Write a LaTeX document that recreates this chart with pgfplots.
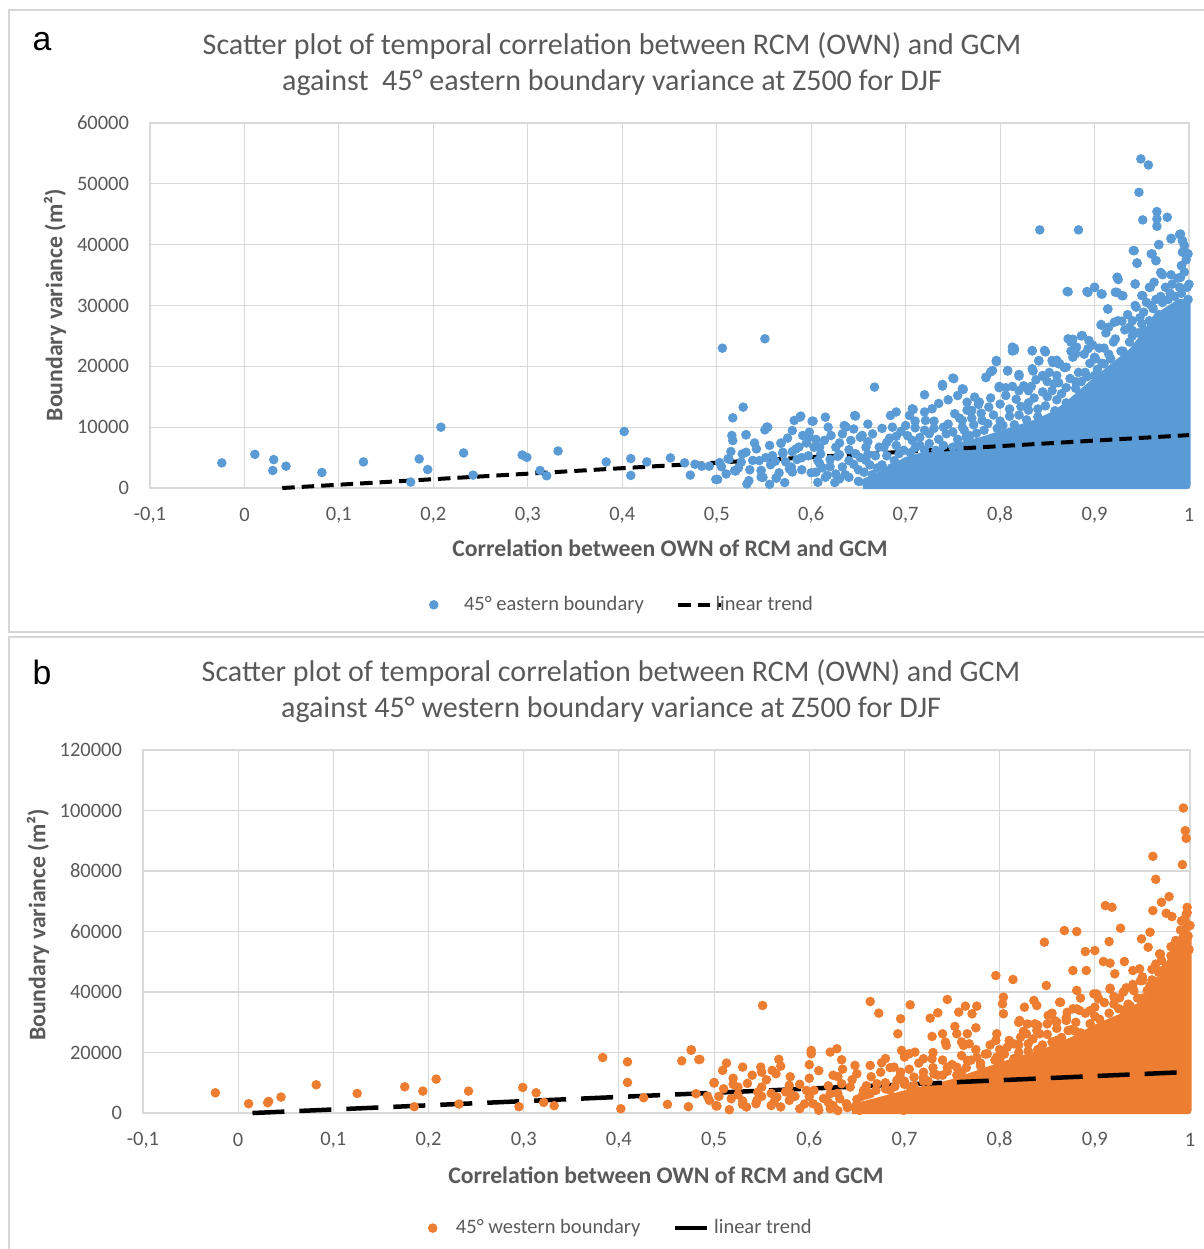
\documentclass[border=0pt]{standalone}
\usepackage{fontspec}
\setmainfont{Carlito}
\newfontfamily\arialfont{Liberation Sans}
\usepackage{pgfplots}
\pgfplotsset{compat=1.18}

\definecolor{cA}{HTML}{5B9BD5}
\definecolor{cB}{HTML}{ED7D31}
\definecolor{gridc}{HTML}{D9D9D9}
\definecolor{txtc}{HTML}{595959}
\definecolor{framec}{HTML}{D6D6D6}

% 1 px of the reference = 0.4pt
\pgfplotsset{
  panel/.style={
    scale only axis, clip=false,
    xmin=-0.1, xmax=1, ymin=0,
    scaled y ticks=false,
    xtick={-0.1,0,0.1,0.2,0.3,0.4,0.5,0.6,0.7,0.8,0.9,1},
    xticklabels={{-0,1},0,{0,1},{0,2},{0,3},{0,4},{0,5},{0,6},{0,7},{0,8},{0,9},1},
    grid=major,
    major grid style={draw=gridc, line width=0.45pt},
    axis line style={draw=gridc, line width=0.45pt},
    tick style={draw=none},
    tick label style={font=\fontsize{8.2}{10}\selectfont, text=txtc, inner sep=0pt},
    xticklabel style={anchor=center, yshift=-10.8pt},
    yticklabel style={anchor=east, xshift=-8.2pt},
    label style={font=\fontsize{9.5}{11}\selectfont\bfseries, text=txtc},
    legend columns=2,
    legend style={draw=none, fill=none, font=\fontsize{8.2}{10}\selectfont,
      text=txtc, anchor=center,
      /tikz/every odd column/.append style={column sep=0pt},
      /tikz/every even column/.append style={column sep=11pt}},
  },
}

\begin{document}
\begin{tikzpicture}
\begin{scope}[x=0.4pt, y=-0.4pt]
  \useasboundingbox (0,0) rectangle (1204,1249);
  \draw[framec, line width=0.8pt] (9,10) rectangle (1215,632);
  \draw[framec, line width=0.8pt] (9,637) rectangle (1215,1260);
  \node[font=\arialfont\fontsize{13.5}{14}\selectfont] at (42,42) {a};
  \node[font=\arialfont\fontsize{13.5}{14}\selectfont] at (42,672) {b};
  \node[font=\fontsize{12}{14}\selectfont, text=txtc] at (612,46)
    {Scatter plot of temporal correlation between RCM (OWN) and GCM};
  \node[font=\fontsize{12}{14}\selectfont, text=txtc] at (612,83)
    {against\ \ 45° eastern boundary variance at Z500 for DJF};
  \node[font=\fontsize{12}{14}\selectfont, text=txtc] at (611,673)
    {Scatter plot of temporal correlation between RCM (OWN) and GCM};
  \node[font=\fontsize{12}{14}\selectfont, text=txtc] at (611,710)
    {against 45° western boundary variance at Z500 for DJF};
\end{scope}

% ---------------- panel a ----------------
\begin{axis}[panel,
  at={(60pt,-195.2pt)}, anchor=south west,
  width=415.6pt, height=146pt,
  ymax=60000,
  ytick={0,10000,20000,30000,40000,50000,60000},
  yticklabels={0,10000,20000,30000,40000,50000,60000},
  xlabel={Correlation between OWN of RCM and GCM},
  ylabel={Boundary variance (m²)},
  xlabel style={at={(axis description cs:0.5005,-0.164)}, anchor=center},
  ylabel style={at={(axis description cs:-0.0914,0.501)}, anchor=center},
  legend style={at={(0.456,-0.32)}},
]
% dense core of the cloud
\addplot[forget plot, fill=cA, draw=cA, line width=2.8pt, line join=round] coordinates {
  (0.655,400) (0.655,900) (0.68,2600) (0.70,4500) (0.74,6300) (0.78,7800)
  (0.81,9300) (0.84,10800) (0.86,12300) (0.88,14800) (0.90,17500) (0.92,20000)
  (0.94,22500) (0.955,25500) (0.965,28000) (0.98,29500) (0.99,30500)
  (0.998,30500) (0.998,400) (0.655,400)
};
\addplot[only marks, mark=*, mark size=1.7pt, color=cA] coordinates {
  (-0.024,4130) (0.011,5540) (0.031,4670) (0.030,2880) (0.044,3590) (0.082,2550)
  (0.126,4290) (0.176,980) (0.185,4780) (0.194,3040) (0.208,10000) (0.232,5760)
  (0.242,2120) (0.294,5430) (0.299,5050) (0.313,2880) (0.320,2010) (0.332,6090)
  (0.383,4290) (0.402,9290) (0.409,4840) (0.409,2070) (0.426,4290) (0.451,4950)
  (0.466,4130) (0.472,2120) (0.477,3910) (0.484,3590) (0.492,3590) (0.499,1410)
  (0.503,4180) (0.513,4730) (0.517,11540) (0.528,13300) (0.516,8630) (0.517,7800)
  (0.531,8740) (0.519,2860) (0.510,2310) (0.532,660) (0.534,1210) (0.531,5880)
  (0.542,6430) (0.545,4510) (0.547,2860) (0.549,1760) (0.551,9560) (0.554,10000)
  (0.559,5330) (0.563,1650) (0.568,7360) (0.570,5880) (0.577,3130) (0.580,9450)
  (0.582,11100) (0.588,11650) (0.584,6430) (0.591,8630) (0.598,9180) (0.601,10990)
  (0.603,6700) (0.607,4510) (0.607,930) (0.615,11650) (0.615,1760) (0.621,8630)
  (0.626,6700) (0.633,8900) (0.635,10270) (0.626,2310) (0.640,1760) (0.646,11920)
  (0.652,8350) (0.658,6700) (0.665,8900) (0.667,16590) (0.672,1760) (0.677,6700)
  (0.684,11920) (0.686,10000) (0.693,3410) (0.700,10270) (0.707,13020)
  (0.506,22990) (0.551,24530) (0.842,42430) (0.883,42430) (0.949,54090) (0.957,53100)
  (0.947,48610) (0.951,44070) (0.966,45440) (0.966,44230) (0.966,43030) (0.977,44510)
  (0.981,41060) (0.990,41660) (0.993,40670) (0.995,39850) (0.993,38760) (0.941,39030)
  (0.945,37010) (0.968,40020) (0.960,38480) (0.965,37390) (0.992,36570) (0.981,35040)
  (0.971,35200) (0.924,34650) (0.925,34270) (0.943,33560) (0.871,32300) (0.892,32300)
  (0.900,33010) (0.907,31920) (0.922,32190) (0.929,31640) (0.950,31640) (0.959,33010)
  (0.963,33830) (0.914,29450) (0.907,26880) (0.915,26440) (0.921,27260) (0.929,27430)
  (0.937,26440) (0.940,25890) (0.944,29730) (0.952,28900) (0.872,24530) (0.875,23980)
  (0.887,25070) (0.894,24250) (0.881,23160) (0.880,22060) (0.893,22880) (0.834,22610)
  (0.847,22610) (0.813,23160) (0.815,22610) (0.796,20970) (0.841,20970) (0.855,20970)
  (0.862,20420) (0.870,19870) (0.901,21240) (0.910,20420) (0.917,21240) (0.785,18230)
  (0.792,19320) (0.808,19320) (0.820,18670) (0.834,19600) (0.847,18230) (0.857,17140)
  (0.799,16700) (0.813,16700) (0.833,16700) (0.739,17030) (0.750,18070) (0.760,16310)
  (0.720,15330) (0.773,14950) (0.778,14120) (0.728,13030) (0.704,11930) (0.752,12210)
  (0.770,12760) (0.647,11830) (0.589,11830) (0.602,11000) (0.553,10020) (0.531,8760)
  (0.568,7390) (0.501,1420) (0.563,1640)
  (0.512,4820) (0.520,2790) (0.526,4270) (0.538,4540) (0.547,2900) (0.547,1810)
  (0.557,3830) (0.570,5640) (0.579,3450) (0.580,2630) (0.587,6730) (0.598,8380)
  (0.609,6730) (0.614,7830) (0.609,4000) (0.617,2080) (0.633,3450) (0.637,10020)
  (0.642,7830) (0.647,5640) (0.654,8650) (0.658,4540) (0.665,1530) (0.672,6730)
  (0.679,2900) (0.686,990) (0.693,5640) (0.700,1810) (0.707,7830) (0.714,710)
  (0.721,11110) (0.725,8920) (0.732,6190) (0.743,8920) (0.750,6730) (0.760,11110)
  (0.764,8380) (0.781,11110) (0.788,13300)
  (0.739,16760) (0.751,17970) (0.761,16210) (0.708,12910) (0.777,13740) (0.769,12640)
  (0.785,18130) (0.790,19070) (0.796,20770) (0.808,19230) (0.799,16490) (0.806,16490)
  (0.813,22530) (0.815,22970) (0.820,18410) (0.834,22530) (0.841,20880) (0.848,22370)
  (0.835,19230) (0.856,20610) (0.863,20440) (0.872,32260) (0.875,24180) (0.877,24450)
  (0.886,25000) (0.893,32150) (0.900,32970) (0.908,31870) (0.914,29400) (0.907,26760)
  (0.924,34620) (0.924,32150) (0.930,31600) (0.942,39010) (0.945,36930) (0.943,33520)
  (0.951,31600) (0.958,32970) (0.961,38470) (0.965,37370) (0.968,40000) (0.970,35440)
  (0.972,35060) (0.981,40940) (0.991,41760) (0.995,39010) (0.992,36540) (0.991,34620)
  (0.996,30220) (0.993,40660)
  (0.80,11000) (0.81,13000) (0.82,12000) (0.83,14000) (0.84,13000) (0.85,15000)
  (0.86,14500) (0.87,16500) (0.88,17500) (0.89,19000) (0.90,21500) (0.91,23000)
  (0.92,24000) (0.93,22500) (0.94,25000) (0.95,27000) (0.96,30000) (0.97,31500)
  (0.98,32000) (0.99,33000) (1.0,33500) (0.83,16000) (0.85,17500) (0.86,18500)
  (0.76,10000) (0.77,11500) (0.74,10000) (0.72,9500) (0.71,11000) (0.69,8500)
  (0.68,7500) (0.66,5500) (0.65,3000) (0.64,4500) (0.63,5500) (0.62,3500)
  (0.60,2500) (0.59,5000) (0.58,6000)
  (0.505,3500) (0.515,6000) (0.523,3300) (0.527,5600) (0.535,3000) (0.54,7400)
  (0.552,5000) (0.556,7000) (0.562,4400) (0.566,2500) (0.573,4300) (0.575,8200)
  (0.585,4700) (0.59,3000) (0.595,7400) (0.597,5300) (0.572,900) (0.556,600)
  (0.605,2600) (0.61,5600) (0.612,3300) (0.62,4700) (0.625,900) (0.628,5200)
  (0.63,7400) (0.636,2200) (0.64,6300) (0.645,3900) (0.65,1100) (0.652,5000)
  (0.656,2600) (0.66,7600) (0.662,3800) (0.668,5300) (0.67,900) (0.675,3800)
  (0.68,5300) (0.683,8200) (0.688,4500) (0.69,7000) (0.695,9300) (0.698,6200)
  (0.702,8600) (0.71,9900) (0.715,7000) (0.605,8000) (0.618,10000) (0.63,1500)
  (0.645,9700) (0.66,10500) (0.675,9800) (0.69,12500)
  (0.705,5800) (0.71,6600) (0.715,8300) (0.72,6200) (0.725,7300) (0.73,9800)
  (0.735,8000) (0.74,7000) (0.745,10500) (0.75,9200) (0.755,8000) (0.757,11500)
  (0.762,9500) (0.765,12800) (0.768,8600) (0.772,10400) (0.775,9000) (0.78,12300)
  (0.783,9500) (0.787,10600) (0.79,14800) (0.793,12000) (0.797,9800) (0.80,13800)
  (0.72,12500) (0.735,13900) (0.745,14500) (0.755,15200) (0.73,11000) (0.765,14100)
  (0.803,10300) (0.806,15200) (0.81,11800) (0.815,10400) (0.817,14600) (0.822,13400)
  (0.825,16800) (0.828,11200) (0.83,12800) (0.836,14800) (0.838,17800) (0.84,11700)
  (0.845,15800) (0.848,13500) (0.852,19000) (0.855,16000) (0.858,12700) (0.862,17300)
  (0.865,15500) (0.868,19800) (0.87,14000) (0.874,18000) (0.877,21500) (0.88,16400)
  (0.883,19000) (0.886,17500) (0.889,22000) (0.892,18300) (0.895,20500) (0.898,23500)
  (0.9,18500) (0.82,16000) (0.845,18500) (0.86,21000) (0.875,22500)
  (0.903,19500) (0.905,23000) (0.908,20500) (0.912,25500) (0.915,22000) (0.918,19500)
  (0.922,24500) (0.925,27500) (0.928,22500) (0.932,26000) (0.935,28500) (0.937,24000)
  (0.94,27500) (0.943,30000) (0.946,25500) (0.948,28000) (0.952,26000) (0.955,30500)
  (0.958,27500) (0.962,29500) (0.965,31000) (0.968,28500) (0.972,30500) (0.975,33000)
  (0.978,31000) (0.982,33500) (0.985,31500) (0.988,34500) (0.992,32000) (0.995,35500)
  (0.998,33000) (0.999,31000) (0.997,37500) (0.999,38500)
  (0.665,2200) (0.675,1200) (0.685,3300) (0.695,2200) (0.67,3300) (0.66,600)
};
\addlegendentry{\hspace{8.4pt}45° eastern boundary}
\addplot[black, line width=1.6pt, dash pattern=on 5pt off 2.8pt] coordinates {
  (0.04,0) (1,8700)
};
\addlegendentry{\hspace{-5pt}linear trend}
\end{axis}

% ---------------- panel b ----------------
\begin{axis}[panel,
  at={(57.2pt,-445.2pt)}, anchor=south west,
  width=418.8pt, height=145.2pt,
  ymax=120000,
  ytick={0,20000,40000,60000,80000,100000,120000},
  yticklabels={0,20000,40000,60000,80000,100000,120000},
  xlabel={Correlation between OWN of RCM and GCM},
  ylabel={Boundary variance (m²)},
  xlabel style={at={(axis description cs:0.4995,-0.171)}, anchor=center},
  ylabel style={at={(axis description cs:-0.1003,0.518)}, anchor=center},
  legend style={at={(0.458,-0.317)}},
]
\addplot[forget plot, fill=cB, draw=cB, line width=2.8pt, line join=round] coordinates {
  (0.645,800) (0.645,1800) (0.67,3800) (0.70,6300) (0.75,10000) (0.80,15500)
  (0.85,20500) (0.88,24500) (0.90,28000) (0.93,32000) (0.95,36000)
  (0.965,41000) (0.975,47000) (0.985,54000) (0.993,59000) (0.998,59000)
  (0.998,800) (0.645,800)
};
\addplot[only marks, mark=*, mark size=1.7pt, color=cB] coordinates {
  (-0.024,6700) (0.011,3080) (0.031,3410) (0.032,3850) (0.045,5280) (0.082,9340)
  (0.125,6480) (0.175,8680) (0.185,2090) (0.194,7250) (0.208,11210) (0.232,2970)
  (0.242,7250) (0.295,2090) (0.299,8460) (0.313,6700) (0.321,3520) (0.332,2420)
  (0.383,18350) (0.402,1430) (0.409,16920) (0.409,10110) (0.426,5060) (0.451,2860)
  (0.466,17250) (0.473,2090) (0.476,20770) (0.484,17690) (0.493,5610) (0.500,10110)
  (0.502,2420)
  (0.993,100830) (0.995,93340) (0.996,90810) (0.992,82110) (0.961,84860) (0.964,77270)
  (0.978,71550) (0.970,69680) (0.961,66920) (0.975,66040) (0.981,64940) (0.997,66260)
  (0.911,68570) (0.918,68020) (0.927,61090) (0.958,59770) (0.949,57570) (0.956,54810)
  (0.968,52610) (0.915,56690) (0.890,53380) (0.900,53710) (0.868,60320) (0.881,59990)
  (0.847,56470) (0.909,50080) (0.916,49530) (0.931,50080) (0.921,46010) (0.940,47110)
  (0.947,47660) (0.877,47110) (0.891,47110) (0.950,43810) (0.958,42160) (0.933,41390)
  (0.916,41280) (0.849,42160) (0.881,40510) (0.796,45460) (0.814,44140) (0.899,39410)
  (0.904,37750) (0.926,38080) (0.863,36650) (0.877,34450) (0.884,33900) (0.839,35550)
  (0.836,37200) (0.826,35000) (0.804,38300) (0.803,36100) (0.804,32800) (0.821,30600)
  (0.837,29500) (0.851,32250) (0.860,30050) (0.870,30600) (0.872,27300) (0.828,26200)
  (0.842,26200) (0.830,22900) (0.797,26200) (0.796,24000) (0.664,36870) (0.673,33020)
  (0.706,35770) (0.745,37530) (0.735,33130) (0.727,31370) (0.764,35330) (0.776,35330)
  (0.771,32800) (0.757,33350) (0.696,31150) (0.693,26200) (0.729,25320) (0.740,26200)
  (0.755,26200) (0.753,28620) (0.775,28180) (0.766,26200) (0.768,22900) (0.762,22340)
  (0.744,22340) (0.743,23450) (0.697,20690) (0.705,19590) (0.711,20140) (0.720,17940)
  (0.729,17940) (0.551,35550) (0.476,20910) (0.485,17720) (0.602,20690) (0.602,19590)
  (0.622,20140) (0.629,21240) (0.634,17610) (0.568,17720) (0.561,14090) (0.549,15190)
  (0.530,15190) (0.513,16510) (0.509,14090) (0.648,15740) (0.664,15740) (0.676,16620)
  (0.500,9910) (0.503,2310) (0.516,1100) (0.534,1980) (0.563,3630) (0.566,5280)
  (0.546,6930) (0.525,8590) (0.518,4730) (0.579,9140) (0.597,7480) (0.604,3080)
  (0.609,1980) (0.622,6380) (0.634,9690) (0.653,880) (0.639,3080) (0.664,6380)
  (0.650,12990) (0.685,7480) (0.699,880) (0.713,5280)
  (0.996,65720) (0.991,63520) (0.995,60770) (0.990,56930) (0.983,51980) (0.981,49230)
  (0.995,49230) (0.974,45390) (0.969,52530) (0.964,49230) (0.967,46490) (0.958,41540)
  (0.948,43740) (0.941,40440) (0.937,35500) (0.920,36050) (0.916,40990) (0.902,39340)
  (0.895,33850) (0.881,34400) (0.871,33300) (0.864,36600) (0.858,30550) (0.850,29450)
  (0.839,27260) (0.829,29450) (0.822,25060) (0.815,22860) (0.808,21760) (0.797,18460)
  (0.787,19560) (0.776,18460) (0.766,17360) (0.755,15170) (0.745,15170) (0.731,12970)
  (0.720,11320) (0.710,11870) (0.696,13520) (0.689,15170)
  (0.544,3080) (0.579,4180) (0.590,1430) (0.622,1430) (0.632,4730) (0.643,8590)
  (0.657,7480) (0.671,9690) (0.678,3080) (0.692,10790) (0.706,8590) (0.720,11890)
  (0.481,6380) (0.495,4180)
  (0.80,17500) (0.82,20000) (0.84,21000) (0.86,24000) (0.88,27000) (0.90,32000)
  (0.93,34000) (0.95,38000) (0.96,44000) (0.97,47000) (0.98,52000) (0.99,57000)
  (1.0,62000) (0.78,15500) (0.76,13500) (0.74,12500) (0.72,10500) (0.70,9500)
  (0.68,8000) (0.66,6000) (0.65,4500) (0.62,3500) (0.60,5500) (0.58,6500)
  (0.56,2500) (0.55,5500) (0.53,4000)
  (0.505,5500) (0.51,8000) (0.52,11500) (0.525,6000) (0.53,2800) (0.535,9800)
  (0.54,12500) (0.545,4200) (0.55,8600) (0.555,11000) (0.56,6500) (0.565,13000)
  (0.57,2000) (0.575,7000) (0.58,12000) (0.585,5500) (0.59,9500) (0.595,3000)
  (0.60,11500) (0.605,7500) (0.61,14000) (0.615,4800) (0.62,9000) (0.625,12500)
  (0.63,6500) (0.635,14500) (0.64,2500) (0.645,11000) (0.55,13500) (0.52,9500)
  (0.57,15500) (0.6,16000) (0.63,12000)
  (0.655,5500) (0.66,9000) (0.665,12000) (0.67,7500) (0.675,13500) (0.68,10000)
  (0.685,15000) (0.69,8800) (0.695,12000) (0.70,10500) (0.705,14500) (0.71,9000)
  (0.715,16500) (0.72,13500) (0.725,10500) (0.73,15000) (0.735,12500) (0.74,17500)
  (0.745,13800) (0.75,16000) (0.755,12500) (0.76,19000) (0.765,15000) (0.77,17500)
  (0.775,21000) (0.78,16500) (0.785,19500) (0.79,22500) (0.795,17500) (0.80,21000)
  (0.70,18500) (0.73,20000) (0.76,23500) (0.68,18000)
  (0.805,19500) (0.81,24000) (0.815,18000) (0.82,22500) (0.825,27000) (0.83,20500)
  (0.835,24500) (0.84,29000) (0.845,22500) (0.85,26000) (0.855,23500) (0.86,28000)
  (0.865,25000) (0.87,31500) (0.875,27500) (0.88,30000) (0.885,26500) (0.89,33000)
  (0.895,29500) (0.90,35000) (0.82,30000) (0.855,33000) (0.885,38000)
  (0.905,31000) (0.91,36500) (0.915,33000) (0.92,38500) (0.925,34500) (0.93,40000)
  (0.935,36000) (0.94,42500) (0.945,38000) (0.95,45000) (0.955,40500) (0.96,47500)
  (0.965,43500) (0.97,50500) (0.975,48500) (0.98,55000) (0.985,57000) (0.99,60500)
  (0.995,63500) (0.998,58500) (0.999,62000) (0.997,68000) (0.999,54000)
  (0.63,800) (0.64,1800) (0.625,2500) (0.61,900) (0.65,3000)
};
\addlegendentry{\hspace{5.6pt}45° western boundary}
\addplot[black, line width=1.8pt, dash pattern=on 12.8pt off 6pt] coordinates {
  (0.015,0) (1,13600)
};
\addlegendentry{\hspace{-4.4pt}linear trend}
\end{axis}
\end{tikzpicture}
\end{document}
